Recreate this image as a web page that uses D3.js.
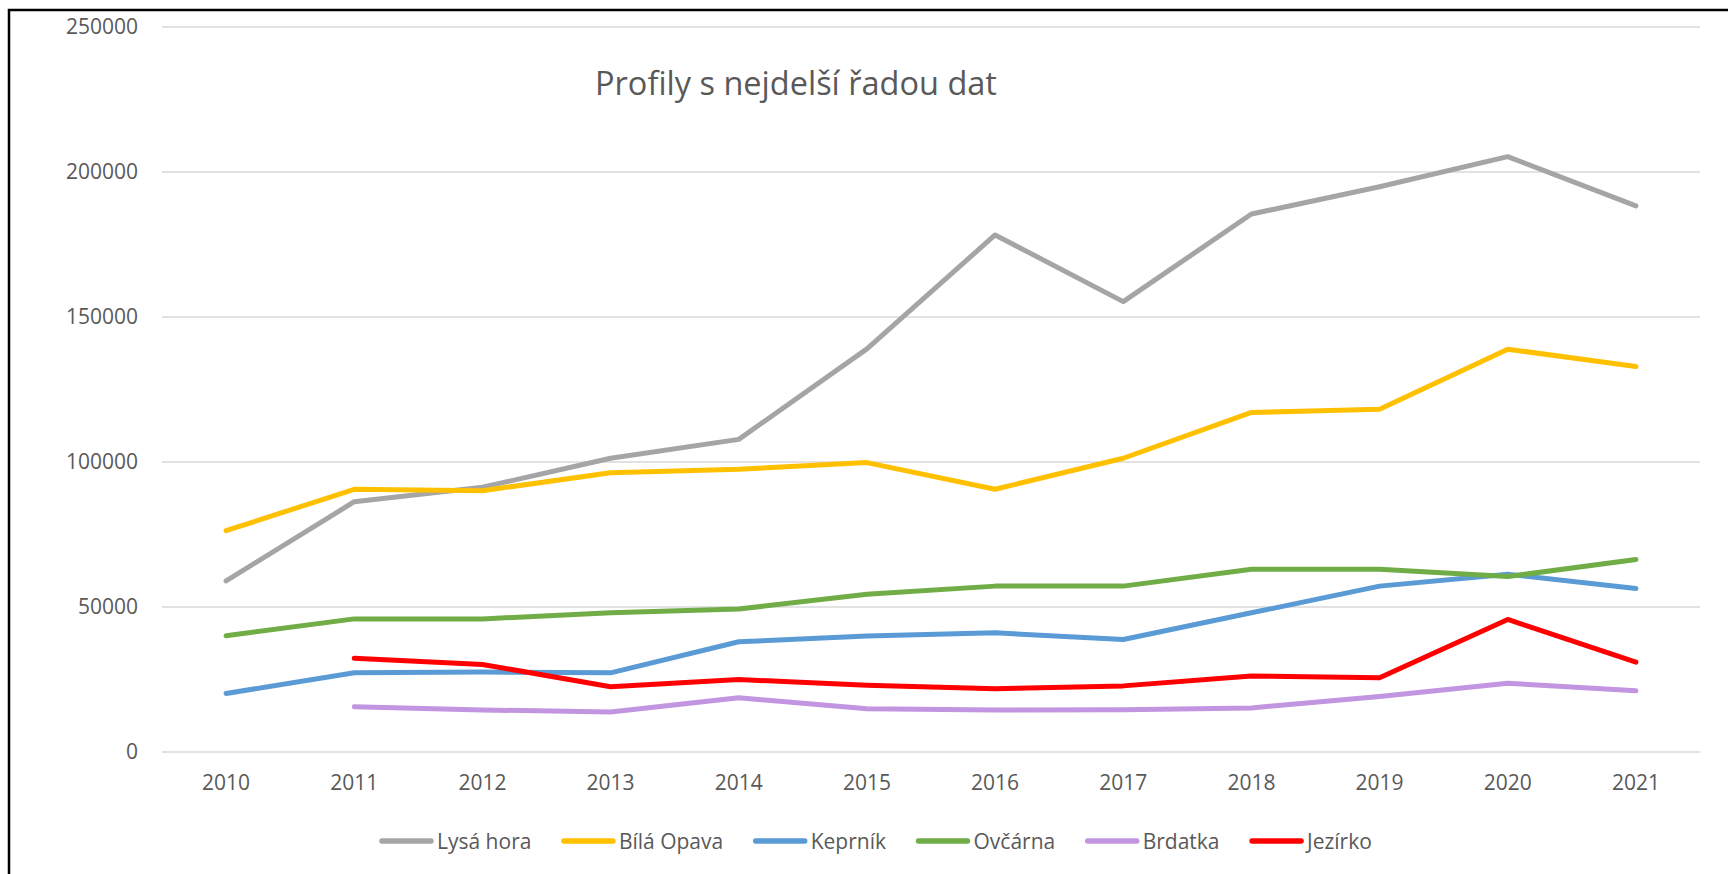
<!DOCTYPE html>
<html>
<head>
<meta charset="utf-8">
<script src="https://cdn.jsdelivr.net/npm/d3@7"></script>
<style>
  html, body { margin: 0; padding: 0; background: #ffffff; overflow: hidden; }
  text { font-family: "Open Sans", "Noto Sans", sans-serif; fill: #595959; }
</style>
</head>
<body>
<div id="chart"></div>
<script>
// Years on the category axis
const years = ["2010", "2011", "2012", "2013", "2014", "2015", "2016", "2017", "2018", "2019", "2020", "2021"];

// Series values (null = no measurement that year)
const lysaHora = [59000, 86300, 91300, 101300, 107800, 139000, 178300, 155300, 185500, 194900, 205300, 188300];
const bilaOpava = [76300, 90600, 90100, 96300, 97500, 99800, 90600, 101300, 117100, 118200, 138900, 132900];
const keprnik = [20200, 27300, 27600, 27300, 38000, 40000, 41100, 38800, 48000, 57200, 61300, 56400];
const ovcarna = [40100, 45900, 45900, 48000, 49300, 54400, 57200, 57200, 63000, 63000, 60500, 66400];
const brdatka = [null, 15600, 14500, 13800, 18700, 14900, 14500, 14600, 15200, 19100, 23700, 21100];
const jezirko = [null, 32300, 30200, 22500, 25000, 23000, 21800, 22800, 26200, 25600, 45700, 31000];

const yTicks = [0, 50000, 100000, 150000, 200000, 250000];

const series = [
  { name: "Lysá hora", values: lysaHora, color: "#A5A5A5" },
  { name: "Bílá Opava", values: bilaOpava, color: "#FFC000" },
  { name: "Keprník", values: keprnik, color: "#5B9BD5" },
  { name: "Ovčárna", values: ovcarna, color: "#70AD47" },
  { name: "Brdatka", values: brdatka, color: "#C195E0" },
  { name: "Jezírko", values: jezirko, color: "#FF0000" }
];

const config = {
  width: 1728,
  height: 874,
  plot: { left: 162, right: 1700, top: 27, bottom: 752 },
  lineWidth: 5,
  grid: "#D9D9D9",
  fontSize: { axis: "21px", title: "32.5px", legend: "21px" }
};

const svg = d3.select("#chart").append("svg")
  .attr("width", config.width)
  .attr("height", config.height);

// Chart frame (runs off the right and bottom edges)
svg.append("rect")
  .attr("x", 9)
  .attr("y", 10)
  .attr("width", 1800)
  .attr("height", 1000)
  .attr("fill", "#ffffff")
  .attr("stroke", "#000000")
  .attr("stroke-width", 2.5);

// Scales
const x = d3.scaleBand()
  .domain(years)
  .range([config.plot.left, config.plot.right]);

const y = d3.scaleLinear()
  .domain([0, 250000])
  .range([config.plot.bottom, config.plot.top]);

// Horizontal grid lines
svg.append("g")
  .attr("class", "grid")
  .selectAll("line")
  .data(yTicks)
  .join("line")
  .attr("x1", config.plot.left)
  .attr("x2", config.plot.right)
  .attr("y1", d => y(d))
  .attr("y2", d => y(d))
  .attr("stroke", config.grid)
  .attr("stroke-width", 1.5);

// Y axis labels
const yAxis = svg.append("g")
  .attr("transform", "translate(138,0)")
  .call(d3.axisLeft(y).tickValues(yTicks).tickSize(0).tickPadding(0).tickFormat(d3.format("d")))
  .attr("font-family", null);
yAxis.select(".domain").remove();
yAxis.selectAll("text")
  .style("font-size", config.fontSize.axis)
  .attr("fill", null);

// X axis labels
const xAxis = svg.append("g")
  .attr("transform", `translate(0,${config.plot.bottom})`)
  .call(d3.axisBottom(x).tickSize(0).tickPadding(0))
  .attr("font-family", null);
xAxis.select(".domain").remove();
xAxis.selectAll("text")
  .attr("dy", null)
  .attr("y", 38)
  .style("font-size", config.fontSize.axis)
  .attr("fill", null);

// Title
svg.append("text")
  .attr("x", 796)
  .attr("y", 95)
  .attr("text-anchor", "middle")
  .style("font-size", config.fontSize.title)
  .text("Profily s nejdelší řadou dat");

// Lines
const line = d3.line()
  .defined(d => d.value != null)
  .x(d => x(d.year) + x.bandwidth() / 2)
  .y(d => y(d.value));

svg.append("g")
  .attr("class", "lines")
  .selectAll("path")
  .data(series)
  .join("path")
  .attr("d", s => line(years.map((yr, i) => ({ year: yr, value: s.values[i] }))))
  .attr("fill", "none")
  .attr("stroke", s => s.color)
  .attr("stroke-width", config.lineWidth)
  .attr("stroke-linejoin", "round")
  .attr("stroke-linecap", "round");

// Legend
const legend = svg.append("g")
  .attr("class", "legend")
  .attr("transform", "translate(379,841)");

let offset = 0;
series.forEach(s => {
  const item = legend.append("g").attr("transform", `translate(${offset},0)`);
  item.append("line")
    .attr("x1", 3)
    .attr("x2", 52)
    .attr("stroke", s.color)
    .attr("stroke-width", 5.5)
    .attr("stroke-linecap", "round");
  const label = item.append("text")
    .attr("x", 58)
    .attr("y", 7.5)
    .style("font-size", config.fontSize.legend)
    .text(s.name);
  offset += 58 + label.node().getComputedTextLength() + 29.5;
});
</script>
</body>
</html>
